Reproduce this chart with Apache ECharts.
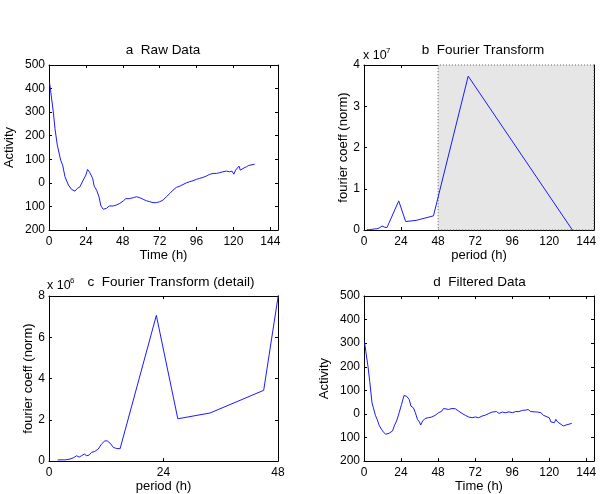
<!DOCTYPE html>
<html>
<head>
<meta charset="utf-8">
<script src="https://cdn.jsdelivr.net/npm/echarts@6/dist/echarts.min.js"></script>
<style>html,body{margin:0;padding:0;background:#fff}#c{width:600px;height:494px}</style>
</head>
<body>
<div id="c"></div>
<script>
// ---- data ----
const timeTicks = [0, 24, 48, 72, 96, 120, 144];
const periodDetailTicks = [0, 24, 48];
const activityTicks = [-200, -100, 0, 100, 200, 300, 400, 500];

const rawTime = [0.4,1,2.8,3.9,5.4,6.7,7.6,8.9,10.4,12.6,14.7,16.9,17.5,18.4,20.1,22.3,24,25.1,26.6,28.4,29.4,31,32.5,33.8,35.3,36.4,37.4,39.2,41.8,43.9,46.1,48.3,50,51.3,52.2,54.8,56.9,59.1,61.3,63.4,65.6,67.7,69.9,72.1,74.2,76.4,78.6,80.7,82.9,85.1,87.2,89.4,91.6,93.7,95.9,98,100.2,102.4,104.5,106.7,108.9,111,113.2,115.4,117.5,119,120.3,121.4,122.5,123.6,124.5,126.2,128.4,130,133.8];
const rawActivity = [424,393,301,230,160,153,96,75,26,-9,-28,-35,-42,-24,-17,12,33,57,43,19,-14,-31,-59,-98,-112,-120,-108,-98,-98,-94,-87,-77,-67,-59,-67,-63,-59,-63,-70,-76,-80,-84,-84,-80,-73,-59,-45,-31,-19,-14,-7,0,5,9,15,19,23,29,36,40,40,43,47,50,47,50,37,54,47,71,54,61,68,74,79];

const filtTime = [0.4,1.5,2.6,3.7,5.2,6.3,7.4,8.5,9.8,11.3,12.8,14.1,15.2,16.3,17.4,18.5,19.6,21.1,22.8,24.3,25.9,27.6,29.3,30.4,32,33.3,34.6,35.9,36.7,38,39.6,41.7,43.9,46.1,48.3,50.4,51.5,52.6,54.8,57,59.1,61.3,63.5,65.7,67.8,70,72.2,74.3,76.5,78.7,80.9,83,84.1,85.9,87.4,89.6,91.7,93.9,96.1,98.3,100.4,102.6,104.8,106.3,108,110.2,112.4,114.6,116.3,118.5,120,121.1,122.2,123.3,124.3,125.4,126.5,127.6,129.1,130.9,132,134.6];
const filtActivity = [302,250,201,138,47,40,-6,-23,-48,-65,-79,-86,-89,-82,-76,-72,-51,-30,5,40,78,75,61,33,26,5,-23,-34,-47,-30,-19,-16,-13,-6,5,12,23,15,19,23,22,12,2,-6,-13,-16,-13,-16,-9,-5,2,8,2,10,2,8,5,9,5,10,10,15,16,19,10,9,8,5,-6,-12,-16,-34,-26,-37,-23,-34,-26,-44,-51,-47,-48,-40];

const fftPeriod = [1.8,3.4,4.4,5.1,5.8,6.3,6.8,7.4,7.9,8.4,8.9,9.6,10.3,11.0,11.7,12.2,12.8,13.5,14.2,14.9,22.5,27,33.75,45,67.5,135];
const fftCoef = [0.06e6,0.06e6,0.1e6,0.16e6,0.26e6,0.19e6,0.26e6,0.34e6,0.26e6,0.29e6,0.42e6,0.47e6,0.58e6,0.82e6,0.98e6,0.98e6,0.87e6,0.66e6,0.61e6,0.6e6,7.06e6,2.05e6,2.33e6,3.43e6,37.3e6,0];

// ---- chart ----
const FONT = '"Liberation Sans", Arial, Helvetica, sans-serif';
const zip = (xs, ys) => xs.map((x, i) => [x, ys[i]]);

const grids = [
  {left: 49, top: 65, width: 229, height: 165},
  {left: 364, top: 65, width: 230, height: 165},
  {left: 49, top: 296, width: 229, height: 166},
  {left: 364, top: 296, width: 230, height: 166}
];

const xAxes = [], yAxes = [];
function addAxes(g, xCfg, yCfg) {
  const common = {
    type: 'value', gridIndex: g, splitLine: {show: false},
    axisLine: {show: true, onZero: false, lineStyle: {color: '#000', width: 1}}
  };
  xAxes.push(Object.assign({}, common, {
    position: 'bottom', min: xCfg.min, max: xCfg.max, interval: xCfg.interval,
    axisTick: {show: true, inside: true, length: 3, customValues: xCfg.ticks, lineStyle: {color: '#000'}},
    axisLabel: {customValues: xCfg.ticks, color: '#000', fontSize: 12, fontFamily: FONT, margin: 6},
    name: xCfg.name, nameLocation: 'middle', nameGap: 16,
    nameTextStyle: {color: '#000', fontSize: 13, fontFamily: FONT}
  }));
  xAxes.push(Object.assign({}, common, {
    position: 'top', min: xCfg.min, max: xCfg.max, interval: xCfg.interval,
    axisTick: {show: true, inside: true, length: 3, customValues: xCfg.ticks, lineStyle: {color: '#000'}},
    axisLabel: {show: false}
  }));
  yAxes.push(Object.assign({}, common, {
    position: 'left', min: yCfg.min, max: yCfg.max, interval: yCfg.interval,
    axisTick: {show: true, inside: true, length: 3, lineStyle: {color: '#000'}},
    axisLabel: {color: '#000', fontSize: 12, fontFamily: FONT, margin: 4, formatter: yCfg.fmt},
    name: yCfg.name, nameLocation: 'middle', nameGap: yCfg.gap,
    nameTextStyle: {color: '#000', fontSize: 13, fontFamily: FONT}
  }));
  yAxes.push(Object.assign({}, common, {
    position: 'right', min: yCfg.min, max: yCfg.max, interval: yCfg.interval,
    axisTick: {show: true, inside: true, length: 3, lineStyle: {color: '#000'}},
    axisLabel: {show: false}
  }));
}
const absFmt = v => String(Math.abs(v));
addAxes(0, {min: 0, max: 149, interval: 24, ticks: timeTicks, name: 'Time (h)'},
           {min: -200, max: 500, interval: 100, fmt: absFmt, name: 'Activity', gap: 33});
addAxes(1, {min: 0, max: 149, interval: 24, ticks: timeTicks, name: 'period (h)'},
           {min: 0, max: 4e7, interval: 1e7, fmt: v => String(v / 1e7), name: 'fourier coeff (norm)', gap: 11});
addAxes(2, {min: 0, max: 48, interval: 24, ticks: periodDetailTicks, name: 'period (h)'},
           {min: 0, max: 8e6, interval: 2e6, fmt: v => String(v / 1e6), name: 'fourier coeff (norm)', gap: 14});
addAxes(3, {min: 0, max: 149, interval: 24, ticks: timeTicks, name: 'Time (h)'},
           {min: -200, max: 500, interval: 100, fmt: absFmt, name: 'Activity', gap: 33});

const lineStyle = {color: '#1a1aff', width: 1};
function lineSeries(axisPair, data) {
  return {type: 'line', xAxisIndex: axisPair * 2, yAxisIndex: axisPair * 2, data: data,
    showSymbol: false, symbol: 'none', lineStyle: lineStyle, clip: true, z: 3, animation: false};
}

const series = [
  {type: 'line', xAxisIndex: 2, yAxisIndex: 2, data: [], z: 1, animation: false,
    markArea: {silent: true,
      itemStyle: {color: '#e6e6e6', borderColor: '#555', borderWidth: 1, borderType: [1, 2]},
      data: [[{coord: [48, 0]}, {coord: [149, 4e7]}]]}},
  lineSeries(0, zip(rawTime, rawActivity)),
  lineSeries(1, zip(fftPeriod, fftCoef)),
  lineSeries(2, zip(fftPeriod, fftCoef)),
  lineSeries(3, zip(filtTime, filtActivity))
];

function txt(x, y, text, size, align) {
  return {type: 'text', z: 10, style: {x: x, y: y, text: text, fill: '#000',
    fontSize: size, fontFamily: FONT, textAlign: align || 'center', textVerticalAlign: 'middle'}};
}

const chart = echarts.init(document.getElementById('c'), null, {renderer: 'canvas'});
chart.setOption({
  animation: false,
  backgroundColor: '#fff',
  grid: grids,
  xAxis: xAxes,
  yAxis: yAxes,
  series: series,
  graphic: [
    txt(163, 50, 'a  Raw Data', 13.5),
    txt(483, 50, 'b  Fourier Transform', 13.5),
    txt(171, 282.5, 'c  Fourier Transform (detail)', 13.5),
    txt(479.5, 282.5, 'd  Filtered Data', 13.5),
    txt(363, 55.5, 'x 10', 12.5, 'left'),
    txt(386, 50.5, '7', 8, 'left'),
    txt(47, 286, 'x 10', 12.5, 'left'),
    txt(70, 281, '6', 8, 'left')
  ]
});
</script>
</body>
</html>
